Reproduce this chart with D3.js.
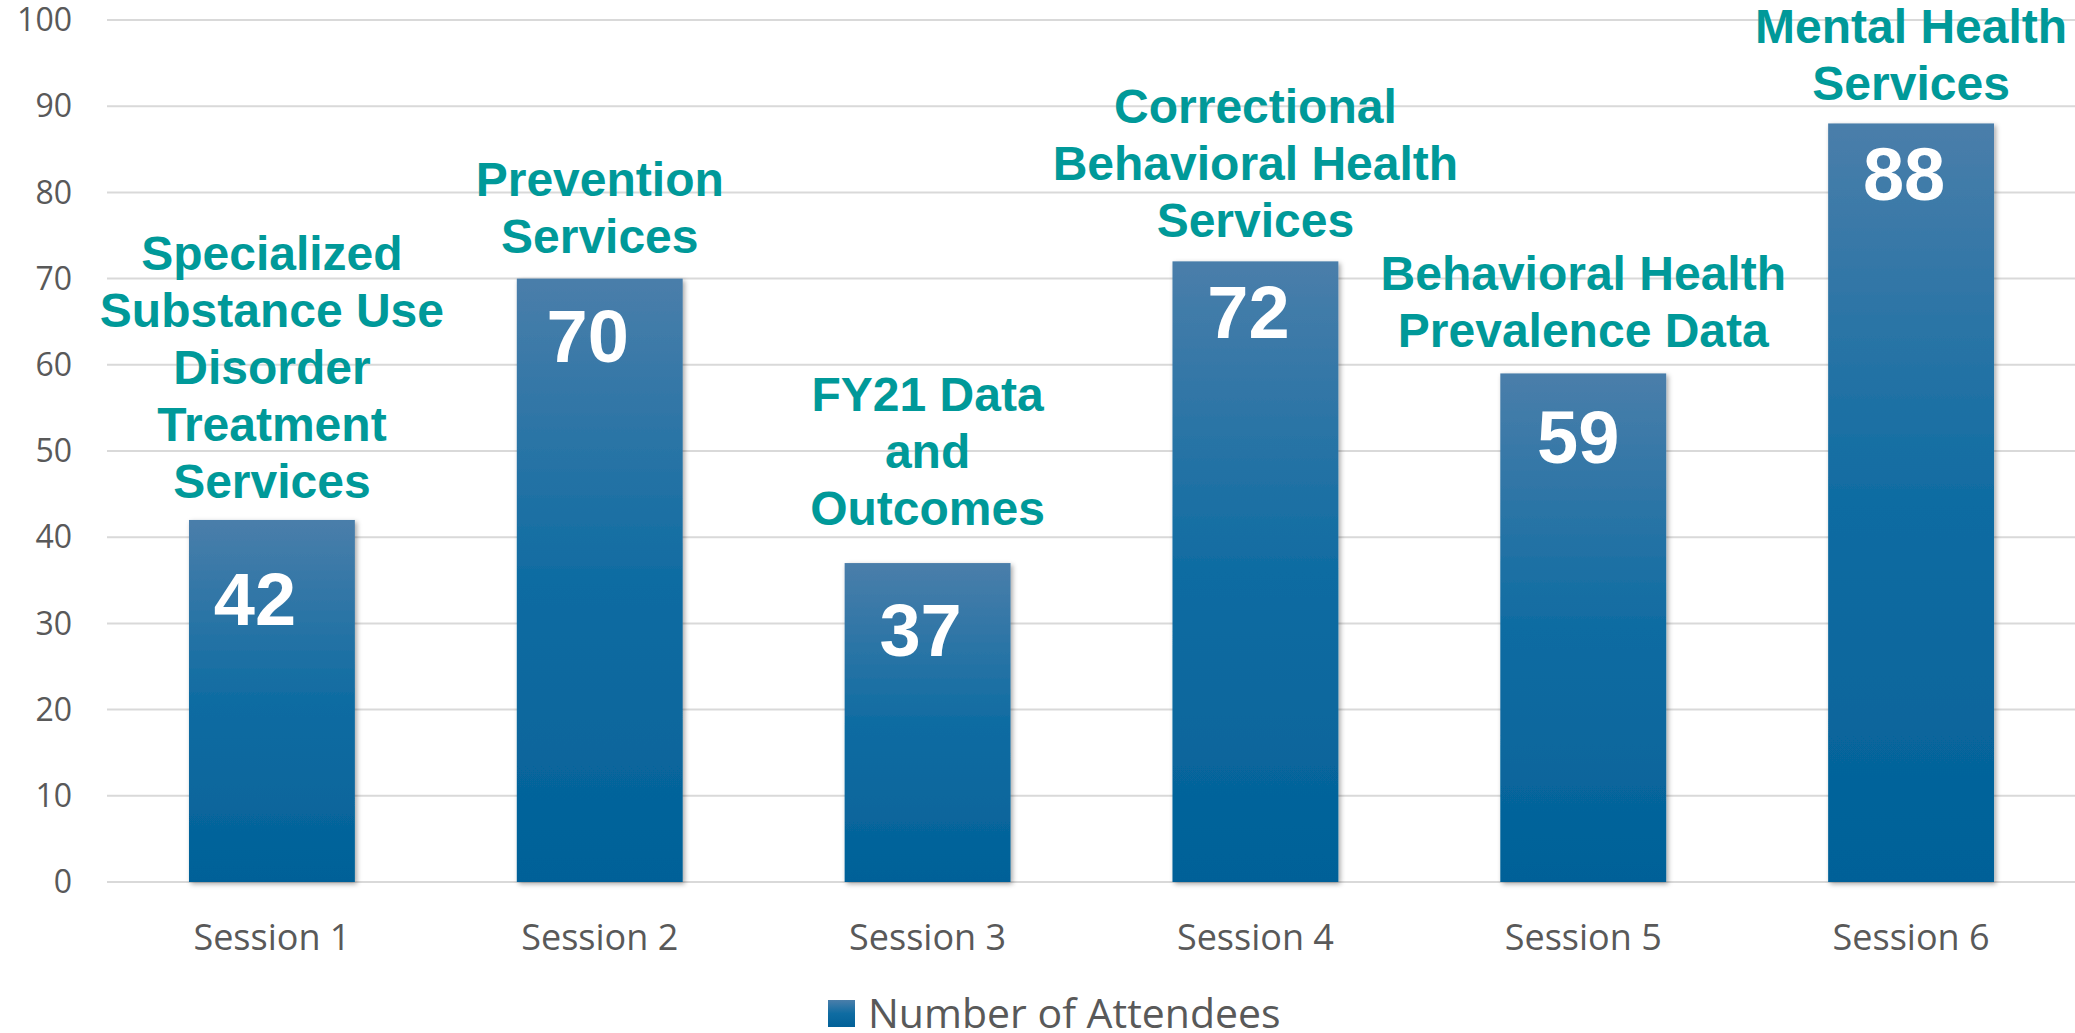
<!DOCTYPE html>
<html>
<head>
<meta charset="utf-8">
<script src="https://cdn.jsdelivr.net/npm/d3@7"></script>
<style>
    body { margin: 0; background: #ffffff; }
    svg { display: block; }
    .tick-label { font-family: 'Open Sans', sans-serif; font-size: 32px; fill: #595959; }
    .cat-label { font-family: 'Open Sans', sans-serif; font-size: 36px; fill: #595959; }
    .topic { font-family: 'Liberation Sans', Arial, sans-serif; font-weight: bold; font-size: 48px; fill: #009999; }
    .value { font-family: 'Liberation Sans', Arial, sans-serif; font-weight: bold; font-size: 74px; fill: #ffffff; }
    .legend { font-family: 'Open Sans', sans-serif; font-size: 41px; fill: #595959; }
</style>
</head>
<body>
<svg width="2075" height="1033"></svg>
<script>
const sessions = ['Session 1', 'Session 2', 'Session 3', 'Session 4', 'Session 5', 'Session 6'];
const attendees = [42, 70, 37, 72, 59, 88];
const topics = [
    ['Specialized', 'Substance Use', 'Disorder', 'Treatment', 'Services'],
    ['Prevention', 'Services'],
    ['FY21 Data', 'and', 'Outcomes'],
    ['Correctional', 'Behavioral Health', 'Services'],
    ['Behavioral Health', 'Prevalence Data'],
    ['Mental Health', 'Services']
];
const yTicks = [0, 10, 20, 30, 40, 50, 60, 70, 80, 90, 100];
const seriesName = 'Number of Attendees';

// hand placed label nudges, as in the original slide
const topicLift = [22, 26, 38, 24, 26, 23];
const valueDrop = [105, 83, 93, 77, 90, 77];
const valueShift = [-17, -12, -7, -7, -5, -7];

const svg = d3.select('svg');

const x = d3.scaleBand()
    .domain(sessions)
    .range([108, 2075])
    .paddingInner(0.494)
    .paddingOuter(0.247);

const y = d3.scaleLinear()
    .domain([0, 100])
    .range([882, 20]);

const defs = svg.append('defs');
const grad = defs.append('linearGradient')
    .attr('id', 'barFill')
    .attr('x1', 0).attr('y1', 0)
    .attr('x2', 0).attr('y2', 1);
grad.append('stop').attr('offset', '0%').attr('stop-color', '#4a7eaa');
grad.append('stop').attr('offset', '50%').attr('stop-color', '#0f6ca2');
grad.append('stop').attr('offset', '100%').attr('stop-color', '#026198');

const shadow = defs.append('filter')
    .attr('id', 'shadow')
    .attr('x', '-10%').attr('y', '-10%')
    .attr('width', '130%').attr('height', '130%');
shadow.append('feDropShadow')
    .attr('dx', 2).attr('dy', 2)
    .attr('stdDeviation', 2.5)
    .attr('flood-color', '#000000')
    .attr('flood-opacity', 0.35);

// gridlines
svg.append('g')
    .selectAll('line')
    .data(yTicks)
    .enter()
    .append('line')
    .attr('x1', 107)
    .attr('x2', 2075)
    .attr('y1', (d) => y(d))
    .attr('y2', (d) => y(d))
    .attr('stroke', '#d9d9d9')
    .attr('stroke-width', 2);

// y tick labels
svg.append('g')
    .selectAll('text')
    .data(yTicks)
    .enter()
    .append('text')
    .attr('class', 'tick-label')
    .attr('x', 72)
    .attr('y', (d) => y(d))
    .attr('dy', '0.35em')
    .attr('text-anchor', 'end')
    .text((d) => d);

// bars
svg.append('g')
    .selectAll('rect')
    .data(attendees)
    .enter()
    .append('rect')
    .attr('x', (d, i) => x(sessions[i]))
    .attr('y', (d) => y(d))
    .attr('width', x.bandwidth())
    .attr('height', (d) => y(0) - y(d))
    .attr('fill', 'url(#barFill)')
    .attr('filter', 'url(#shadow)');

// values inside bars
svg.append('g')
    .selectAll('text')
    .data(attendees)
    .enter()
    .append('text')
    .attr('class', 'value')
    .attr('x', (d, i) => x(sessions[i]) + x.bandwidth() / 2 + valueShift[i])
    .attr('y', (d, i) => y(d) + valueDrop[i])
    .attr('text-anchor', 'middle')
    .text((d) => d);

// topic labels above bars
const lineHeight = 57;
topics.forEach((lines, i) => {
    const cx = x(sessions[i]) + x.bandwidth() / 2;
    const base = y(attendees[i]) - topicLift[i];
    svg.append('text')
        .attr('class', 'topic')
        .attr('text-anchor', 'middle')
        .selectAll('tspan')
        .data(lines)
        .enter()
        .append('tspan')
        .attr('x', cx)
        .attr('y', (d, j) => base - (lines.length - 1 - j) * lineHeight)
        .text((d) => d);
});

// category labels
svg.append('g')
    .selectAll('text')
    .data(sessions)
    .enter()
    .append('text')
    .attr('class', 'cat-label')
    .attr('x', (d) => x(d) + x.bandwidth() / 2)
    .attr('y', 950)
    .attr('text-anchor', 'middle')
    .text((d) => d);

// legend
const legend = svg.append('g');
legend.append('rect')
    .attr('x', 828)
    .attr('y', 1000)
    .attr('width', 27)
    .attr('height', 27)
    .attr('fill', 'url(#barFill)');
legend.append('text')
    .attr('class', 'legend')
    .attr('x', 868)
    .attr('y', 1028)
    .text(seriesName);
</script>
</body>
</html>
